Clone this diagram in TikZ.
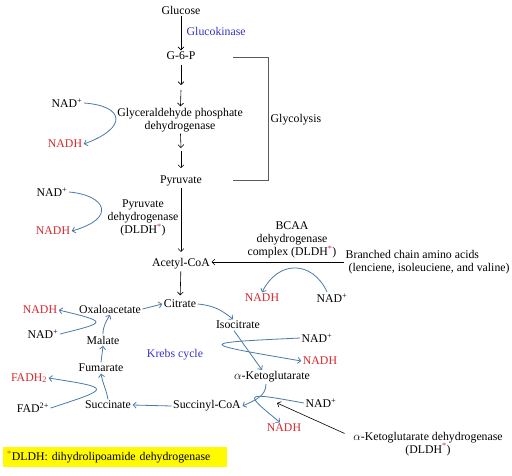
\documentclass[tikz,border=0pt]{standalone}
\usepackage{fontspec}
\setmainfont{Liberation Serif}
\usetikzlibrary{arrows.meta}
\definecolor{lc}{RGB}{74,122,168}
\definecolor{rc}{RGB}{212,38,44}
\definecolor{bc}{RGB}{52,52,196}
\definecolor{gc}{RGB}{90,90,90}
\definecolor{yl}{RGB}{255,250,0}
\begin{document}
\begin{tikzpicture}[x=1pt,y=1pt,
  font=\fontsize{11.8}{13}\selectfont,
  every node/.style={inner sep=1.5pt},
  rt/.style={text=rc},
  bt/.style={text=bc},
  ba/.style={-{Straight Barb[length=3pt,width=6pt]}, line width=0.6pt, black},
  la/.style={-{Straight Barb[length=3pt,width=6pt]}, line width=0.8pt, lc},
  bracketline/.style={line width=0.7pt, gc}]
\useasboundingbox (0,0) rectangle (512,-475);

% main column
\node (glu) at (181,-10) {Glucose};
\node[bt, anchor=west] (gk) at (185,-31) {Glucokinase};
\node (g6p) at (181,-56) {G-6-P};
\coordinate (s1) at (181,-85);
\coordinate (s2) at (181,-90);
\node[align=center] (gap) at (180,-120) {Glyceraldehyde phosphate\\dehydrogenase};
\coordinate (s3) at (181,-148);
\coordinate (s4) at (181,-151);
\node (pyr) at (181,-181) {Pyruvate};
\node (aco) at (181,-264) {Acetyl-CoA};
\node (cit) at (180,-304) {Citrate};

\draw[ba] (glu) -- (g6p);
\draw[ba, shorten <=3pt] (g6p) -- (s1);
\draw[ba] (s2) -- (gap);
\draw[ba] (gap) -- (s3);
\draw[ba, shorten >=6pt] (s4) -- (pyr);
\draw[ba, shorten >=5pt] (pyr) -- (aco);
\draw[ba, shorten >=3pt] (aco) -- (cit);

% glycolysis bracket
\coordinate (bt1) at (233,-57);
\coordinate (bb1) at (233,-180);
\node[anchor=west] (gly) at (269,-120) {Glycolysis};
\draw[bracketline] (bt1) -- (268,-57) -- (268,-180) -- (bb1);

% NAD cofactors glycolysis
\node (nad1) at (67,-103) {NAD\textsuperscript{+}};
\node[rt] (nadh1) at (65,-144) {NADH};
\draw[la] (nad1.east) .. controls (125,-106) and (128,-128) .. (nadh1.east);

\node (nad2) at (52,-192) {NAD\textsuperscript{+}};
\node[rt] (nadh2) at (53,-231) {NADH};
\draw[la] (nad2.east) .. controls (105,-195) and (118,-218) .. (nadh2.east);

\node[align=center] (pdh) at (143,-218) {Pyruvate\\dehydrogenase\\(DLDH\textsuperscript{\textcolor{rc}{*}})};

% BCAA
\node[align=center] (bcaa) at (292,-240) {BCAA\\dehydrogenase\\complex (DLDH\textsuperscript{\textcolor{rc}{*}})};
\node[anchor=west, align=left] (bca) at (344,-262) {Branched chain amino acids\\\hspace{3pt}(lenciene, isoleuciene, and valine)};
\draw[ba] (bca.west) -- (aco.east |- bca.west);
\node[rt] (nadh4) at (262,-298) {NADH};
\node (nad4) at (332,-298) {NAD\textsuperscript{+}};
\draw[la] ([xshift=-5pt]nad4.north) .. controls (312,-260) and (278,-260) .. (nadh4.north);

% Krebs cycle
\node[bt] (krebs) at (175,-355) {Krebs cycle};
\node (oxa) at (110,-309) {Oxaloacetate};
\node[rt] (nadhL) at (40,-310) {NADH};
\node (nadL) at (43,-334) {NAD\textsuperscript{+}};
\node (mal) at (103,-340) {Malate};
\node (fum) at (101,-368) {Fumarate};
\node[rt] (fadh) at (29,-378) {FADH\textsubscript{2}};
\node (fad) at (33,-408) {FAD\textsuperscript{2+}};
\node (suc) at (108,-405) {Succinate};
\node (sco) at (207,-406) {Succinyl-CoA};
\node (iso) at (238,-325) {Isocitrate};
\node (akg) at (272,-377) {$\alpha$-Ketoglutarate};
\node (nad5) at (317,-338) {NAD\textsuperscript{+}};
\node[rt] (nadh5) at (320,-361) {NADH};
\node (nad6) at (321,-403) {NAD\textsuperscript{+}};
\node[rt] (nadh6) at (284,-428) {NADH};
\node[align=center] (akgdh) at (428,-444) {$\alpha$-Ketoglutarate dehydrogenase\\(DLDH\textsuperscript{\textcolor{rc}{*}})};

\draw[la] (oxa.east) -- (cit.west);
\draw[la] (cit.east) to[out=-5,in=140] ([xshift=-5pt]iso.north);
\draw[la] ([xshift=-4pt]iso.south) -- ([xshift=-10pt]akg.north);
\draw[la] (nad5.west) .. controls (196,-343) .. (nadh5.west);
\draw[la] ([xshift=-6pt]akg.south) to[out=-90,in=25] (sco.east);
\draw[la] (nad6.west) .. controls (243,-392) .. ([xshift=-4pt]nadh6.north);
\draw[la] (sco.west) -- (suc.east);
\draw[la] (suc.north) to[out=100,in=-80] (fum.south);
\draw[la] (fad.east) .. controls (112,-388) .. (fadh.east);
\draw[la] (fum.north) -- (mal.south);
\draw[la] (mal.north) to[out=90,in=-120] (oxa.south);
\draw[la] (nadL.east) .. controls (108,-322) .. (nadhL.east);

\coordinate (akgtip) at (277,-403);
\draw[ba] ([xshift=-7pt,yshift=-3pt]akgdh.north west) -- (akgtip);

% footnote
\node[fill=yl, anchor=north west, minimum width=224pt, minimum height=20pt, text width=216pt, inner xsep=4pt, align=left] (foot) at (3,-447) {\textcolor{rc}{\textsuperscript{*}}DLDH: dihydrolipoamide dehydrogenase};
\end{tikzpicture}
\end{document}
